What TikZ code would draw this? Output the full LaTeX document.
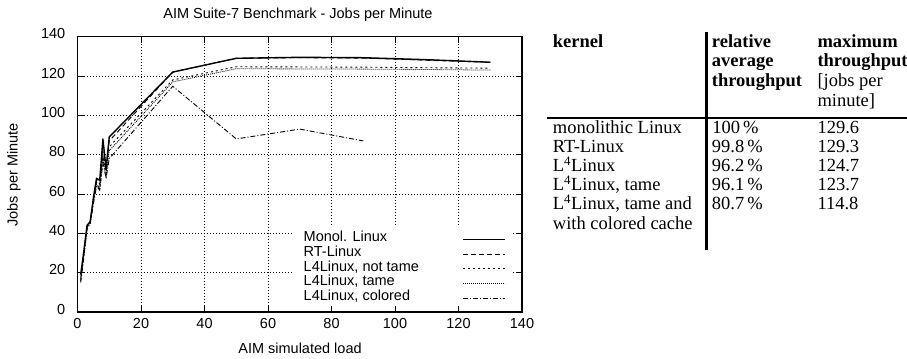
\documentclass[tikz,border=0pt]{standalone}
\usepackage{fontspec}
\setmainfont{Liberation Serif}
\setsansfont{Liberation Sans}
\tikzset{
  plotfont/.style={font=\fontsize{14.5bp}{15bp}\selectfont\sffamily, inner sep=0pt},
  tabfont/.style={font=\fontsize{18.5bp}{19bp}\selectfont\rmfamily, inner sep=0pt, anchor=mid west},
  tabbold/.style={font=\fontsize{18.5bp}{19bp}\selectfont\rmfamily\bfseries, inner sep=0pt, anchor=mid west},
  gridline/.style={line width=0.8bp, dash pattern=on 1bp off 2bp},
  framestyle/.style={line width=1.4bp},
  tickstyle/.style={line width=1bp},
  cmono/.style={line width=1.4bp, line join=round},
  crt/.style={line width=0.9bp, dash pattern=on 5bp off 3bp},
  cnottame/.style={line width=0.9bp, dash pattern=on 2bp off 3bp},
  ctame/.style={line width=0.8bp, dash pattern=on 1bp off 1bp},
  ccolored/.style={line width=0.9bp, dash pattern=on 5bp off 2bp on 1bp off 2bp},
  tabrule/.style={line width=2.6bp}
}
\begin{document}
\begin{tikzpicture}[x=1bp, y=-1bp]
\useasboundingbox (0,0) rectangle (907,358);

% ---------- plot ----------
\begin{scope}[shift={(77.5bp,-312bp)}, x=3.175bp, y=1.9667bp]
  \foreach \v in {20,40,...,120} {
    \draw[gridline] (\v,0) -- (\v,140);
    \draw[gridline] (0,\v) -- (140,\v);
  }
  % legend background
  \fill[white] (68,3) rectangle (137,44.2);
  % frame and ticks
  \draw[framestyle] (0,0) rectangle (140,140);
  \foreach \v in {0,20,...,140} {
    \draw[tickstyle] (\v,0) -- ++(0,6bp);
    \draw[tickstyle] (\v,140) -- ++(0,-6bp);
    \draw[tickstyle] (0,\v) -- ++(6bp,0);
    \draw[tickstyle] (140,\v) -- ++(-6bp,0);
    \node[plotfont, anchor=mid] (xt\v) at ([yshift=-14bp]\v,0) {\v};
    \node[plotfont, anchor=mid east] (yt\v) at ([xshift=-12bp]0,\v) {\v};
  }
  % curves
  \draw[ccolored] plot coordinates {(1,15) (2,28) (3,42) (4,45) (5,55) (6,64) (7,62) (8,76) (9,68) (10,78) (30,114.8) (50,88) (70,93) (90,87)};
  \draw[ctame] plot coordinates {(1,16) (2,29) (3,43) (4,45) (5,56) (6,65) (7,62) (8,78) (9,69) (10,82) (30,117) (50,123.7) (70,123.6) (90,123.5) (110,123.3) (130,123)};
  \draw[cnottame] plot coordinates {(1,16) (2,29) (3,44) (4,45) (5,56) (6,66) (7,63) (8,80) (9,70) (10,84) (30,118) (50,124.7) (70,124.6) (90,124.5) (110,124.2) (130,124)};
  \draw[crt] plot coordinates {(1,17) (2,30) (3,43) (4,46) (5,57) (6,67) (7,65) (8,82) (9,72) (10,87) (30,122) (50,129) (70,129.3) (90,129.1) (110,128) (130,127)};
  \draw[cmono] plot coordinates {(1,19) (2,31) (3,44) (4,46) (5,58) (6,68) (7,67) (8,88) (9,73) (10,89) (30,122) (50,129) (70,129.5) (90,129.3) (110,128.3) (130,127)};
\end{scope}

% titles
\node[plotfont] (title) at (298,15) {AIM Suite-7 Benchmark - Jobs per Minute};
\node[plotfont] (xlabel) at (300,348) {AIM simulated load};
\node[plotfont, rotate=90] (ylabel) at (14,175) {Jobs per Minute};

% legend
\node[plotfont, anchor=mid west] (l1) at (303.5,239.3) {Monol. Linux};
\node[plotfont, anchor=mid west] (l2) at (303.5,254.0) {RT-Linux};
\node[plotfont, anchor=mid west] (l3) at (303.5,268.8) {L4Linux, not tame};
\node[plotfont, anchor=mid west] (l4) at (303.5,283.5) {L4Linux, tame};
\node[plotfont, anchor=mid west] (l5) at (303.5,298.3) {L4Linux, colored};
\draw[cmono] (463,239.3) -- (505,239.3);
\draw[crt] (463,254.0) -- (505,254.0);
\draw[cnottame] (463,268.8) -- (505,268.8);
\draw[ctame] (463,283.5) -- (505,283.5);
\draw[ccolored] (463,298.3) -- (505,298.3);

% ---------- table ----------
\draw[tabrule] (706.7,31.7) -- (706.7,250);
\draw[tabrule] (546.7,117.8) -- (907,117.8);

\node[tabbold] (h1) at (552.7,45) {kernel};
\node[tabbold] (h2a) at (711.7,45) {relative};
\node[tabbold] (h2b) at (711.7,64.7) {average};
\node[tabbold] (h2c) at (711.7,84.3) {throughput};
\node[tabbold] (h3a) at (817.3,45) {maximum};
\node[tabbold] (h3b) at (817.3,64.7) {throughput};
\node[tabfont] (h3c) at (817.3,84.3) {[jobs per};
\node[tabfont] (h3d) at (817.3,104) {minute]};

\node[tabfont] (r1a) at (552.7,130.8) {monolithic Linux};
\node[tabfont] (r2a) at (552.7,150.0) {RT-Linux};
\node[tabfont] (r3a) at (552.7,169.2) {L\textsuperscript{4}Linux};
\node[tabfont] (r4a) at (552.7,188.5) {L\textsuperscript{4}Linux, tame};
\node[tabfont] (r5a) at (552.7,207.7) {L\textsuperscript{4}Linux, tame and};
\node[tabfont] (r6a) at (552.7,227.0) {with colored cache};

\node[tabfont] (r1b) at (712.2,130.8) {100\,\%};
\node[tabfont] (r2b) at (711.7,150.0) {99.8\,\%};
\node[tabfont] (r3b) at (711.7,169.2) {96.2\,\%};
\node[tabfont] (r4b) at (711.7,188.5) {96.1\,\%};
\node[tabfont] (r5b) at (711.7,207.7) {80.7\,\%};

\node[tabfont] (r1c) at (817.3,130.8) {129.6};
\node[tabfont] (r2c) at (817.3,150.0) {129.3};
\node[tabfont] (r3c) at (817.3,169.2) {124.7};
\node[tabfont] (r4c) at (817.3,188.5) {123.7};
\node[tabfont] (r5c) at (817.3,207.7) {114.8};
\end{tikzpicture}
\end{document}
